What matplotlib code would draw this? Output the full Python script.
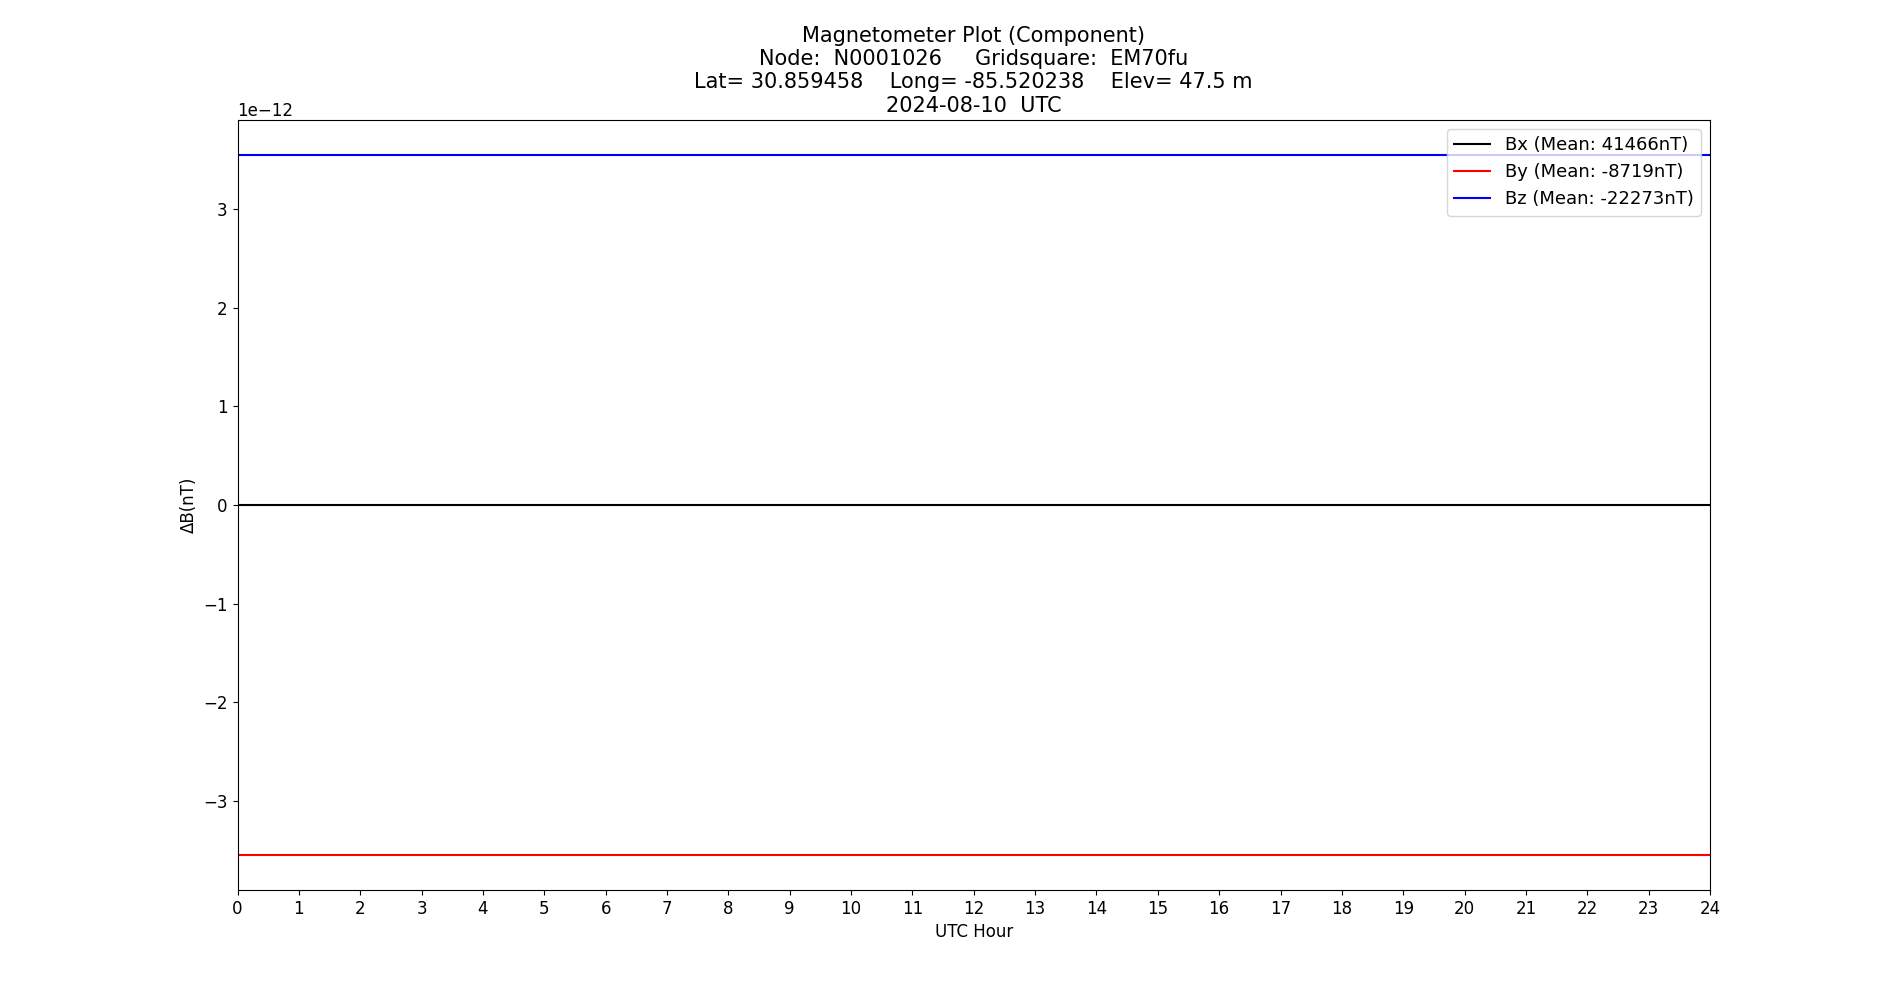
import numpy as np
import matplotlib.pyplot as plt

hours = [0, 24]
bx = [0.0, 0.0]
by = [-3.55e-12, -3.55e-12]
bz = [3.55e-12, 3.55e-12]
means = {"Bx": 41466, "By": -8719, "Bz": -22273}

plt.rcParams['font.size'] = 12
fig, ax = plt.subplots(figsize=(19, 10), dpi=100)
ax.plot(hours, bx, color='black', label='Bx (Mean: %dnT)' % means["Bx"])
ax.plot(hours, by, color='red', label='By (Mean: %dnT)' % means["By"])
ax.plot(hours, bz, color='blue', label='Bz (Mean: %dnT)' % means["Bz"])
ax.set_xlim(0, 24)
ax.set_xticks(range(0, 25))
ax.set_xlabel('UTC Hour')
ax.set_ylabel('ΔB(nT)')
ax.set_title('Magnetometer Plot (Component)\nNode:  N0001026     Gridsquare:  EM70fu\n'
             'Lat= 30.859458    Long= -85.520238    Elev= 47.5 m\n2024-08-10  UTC', fontsize=15)
ax.legend(loc='upper right', fontsize=13)
fig.savefig('out.png')
